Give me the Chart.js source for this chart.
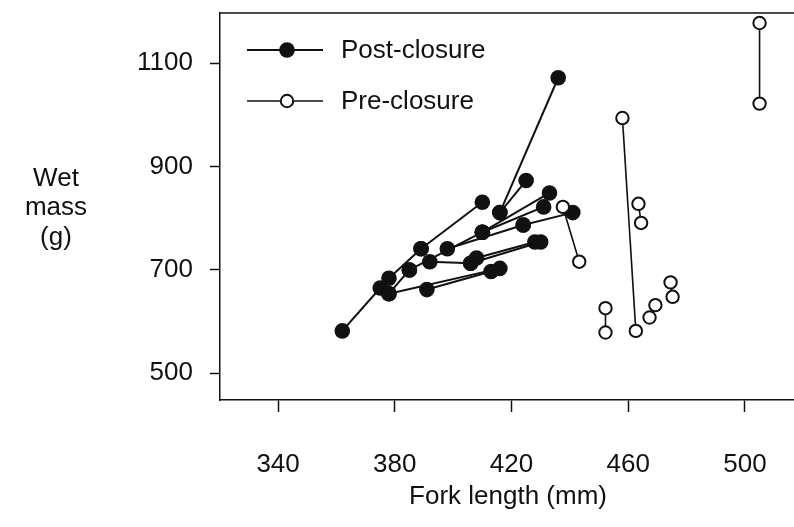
<!DOCTYPE html>
<html>
<head>
<meta charset="utf-8">
<script src="https://cdn.jsdelivr.net/npm/chart.js@4.4.1/dist/chart.umd.min.js"></script>
<style>
  html, body { margin: 0; padding: 0; background: #fff; }
</style>
</head>
<body>
<canvas id="chart" width="794" height="527"></canvas>
<script>
/* Fork length vs wet mass — repeated measures joined by lines */
const xTicks = [340, 380, 420, 460, 500];
const yTicks = [500, 700, 900, 1100];

// post-closure fish: each entry is one fish, [first, second] measurement
const postLength = [
  [362, 375], [378, 389], [389, 410], [378, 385], [385, 410], [410, 433],
  [398, 424], [424, 441], [416, 425], [416, 436], [392, 406], [408, 428],
  [406, 430], [391, 413], [378, 416], [410, 431]
];
const postMass = [
  [582, 665], [684, 741], [741, 831], [654, 700], [700, 773], [773, 849],
  [741, 787], [787, 811], [811, 873], [811, 1072], [716, 713], [723, 754],
  [713, 754], [662, 697], [654, 703], [773, 822]
];

// pre-closure fish
const preLength = [[437.6, 443.2], [458, 462.6], [463.5, 464.4], [452.2, 452.2], [469.3, 467.3], [474.5, 475.2], [505, 505]];
const preMass = [[822, 716], [994, 582], [828, 791], [626, 579], [632, 608], [676, 648], [1178, 1022]];

const FONT = "'Liberation Sans', Arial, Helvetica, sans-serif";
const INK = "#111";

function pairs(xs, ys) {
  return xs.map(function (row, i) { return row.map(function (x, j) { return { x: x, y: ys[i][j] }; }); });
}

const postPairs = pairs(postLength, postMass);
const prePairs = pairs(preLength, preMass);

const datasets = [];
// open circles on top
datasets.push({
  label: "Pre-closure", data: [].concat.apply([], prePairs), showLine: false, order: 0,
  pointRadius: 6.2, pointBackgroundColor: "#fff", pointBorderColor: INK, pointBorderWidth: 2, clip: false
});
datasets.push({
  label: "Post-closure", data: [].concat.apply([], postPairs), showLine: false, order: 1,
  pointRadius: 7.8, pointBackgroundColor: INK, pointBorderColor: INK, pointBorderWidth: 0, clip: false
});
prePairs.forEach(function (p) {
  datasets.push({ data: p, showLine: true, borderColor: INK, borderWidth: 1.6, pointRadius: 0, order: 2, clip: false });
});
postPairs.forEach(function (p) {
  datasets.push({ data: p, showLine: true, borderColor: INK, borderWidth: 2, pointRadius: 0, order: 2, clip: false });
});

// frame top line, legend and axis titles
const decor = {
  id: "decor",
  afterDraw: function (chart) {
    const ctx = chart.ctx, a = chart.chartArea;
    ctx.save();
    ctx.strokeStyle = INK; ctx.lineWidth = 1.5;
    ctx.beginPath(); ctx.moveTo(a.left, a.top); ctx.lineTo(chart.width, a.top); ctx.stroke();

    // legend
    ctx.font = "26px " + FONT; ctx.fillStyle = INK; ctx.textBaseline = "middle"; ctx.textAlign = "left";
    [["Post-closure", 50, true], ["Pre-closure", 101, false]].forEach(function (e) {
      ctx.lineWidth = e[2] ? 2 : 1.6;
      ctx.beginPath(); ctx.moveTo(247, e[1]); ctx.lineTo(323, e[1]); ctx.stroke();
      ctx.beginPath(); ctx.arc(287, e[1], e[2] ? 7.8 : 6.2, 0, Math.PI * 2);
      if (e[2]) { ctx.fill(); } else { ctx.fillStyle = "#fff"; ctx.fill(); ctx.lineWidth = 2; ctx.stroke(); ctx.fillStyle = INK; }
      ctx.fillText(e[0], 341, e[1] + 1);
    });

    // axis titles
    ctx.textAlign = "center";
    ctx.fillText("Wet", 56, 179);
    ctx.fillText("mass", 56, 208);
    ctx.fillText("(g)", 56, 238);
    ctx.fillText("Fork length (mm)", 508, 497);
    ctx.restore();
  }
};

new Chart(document.getElementById("chart"), {
  type: "scatter",
  data: { datasets: datasets },
  options: {
    responsive: false, animation: false, devicePixelRatio: 1,
    layout: { autoPadding: false, padding: { top: 13, right: 0, left: 0, bottom: 0 } },
    plugins: { legend: { display: false }, tooltip: { enabled: false } },
    scales: {
      x: {
        type: "linear", min: 320.1, max: 516.8,
        afterFit: function (s) { s.height = 127; s.paddingLeft = 0; s.paddingRight = 0; },
        afterBuildTicks: function (s) { s.ticks = xTicks.map(function (v) { return { value: v }; }); },
        grid: { display: true, drawOnChartArea: false, drawTicks: true, tickLength: 12, tickColor: INK, tickWidth: 1.5 },
        border: { display: true, color: INK, width: 1.5 },
        ticks: { color: INK, padding: 37, maxRotation: 0, font: { family: FONT, size: 26 }, callback: function (v) { return String(v); } }
      },
      y: {
        type: "linear", min: 448.3, max: 1197.3,
        afterFit: function (s) { s.width = 220; s.paddingTop = 0; s.paddingBottom = 0; },
        afterBuildTicks: function (s) { s.ticks = yTicks.map(function (v) { return { value: v }; }); },
        grid: { display: true, drawOnChartArea: false, drawTicks: true, tickLength: 10, tickColor: INK, tickWidth: 1.5 },
        border: { display: true, color: INK, width: 1.5 },
        ticks: { color: INK, padding: 17, font: { family: FONT, size: 26 }, callback: function (v) { return String(v); } }
      }
    }
  },
  plugins: [decor]
});
</script>
</body>
</html>
